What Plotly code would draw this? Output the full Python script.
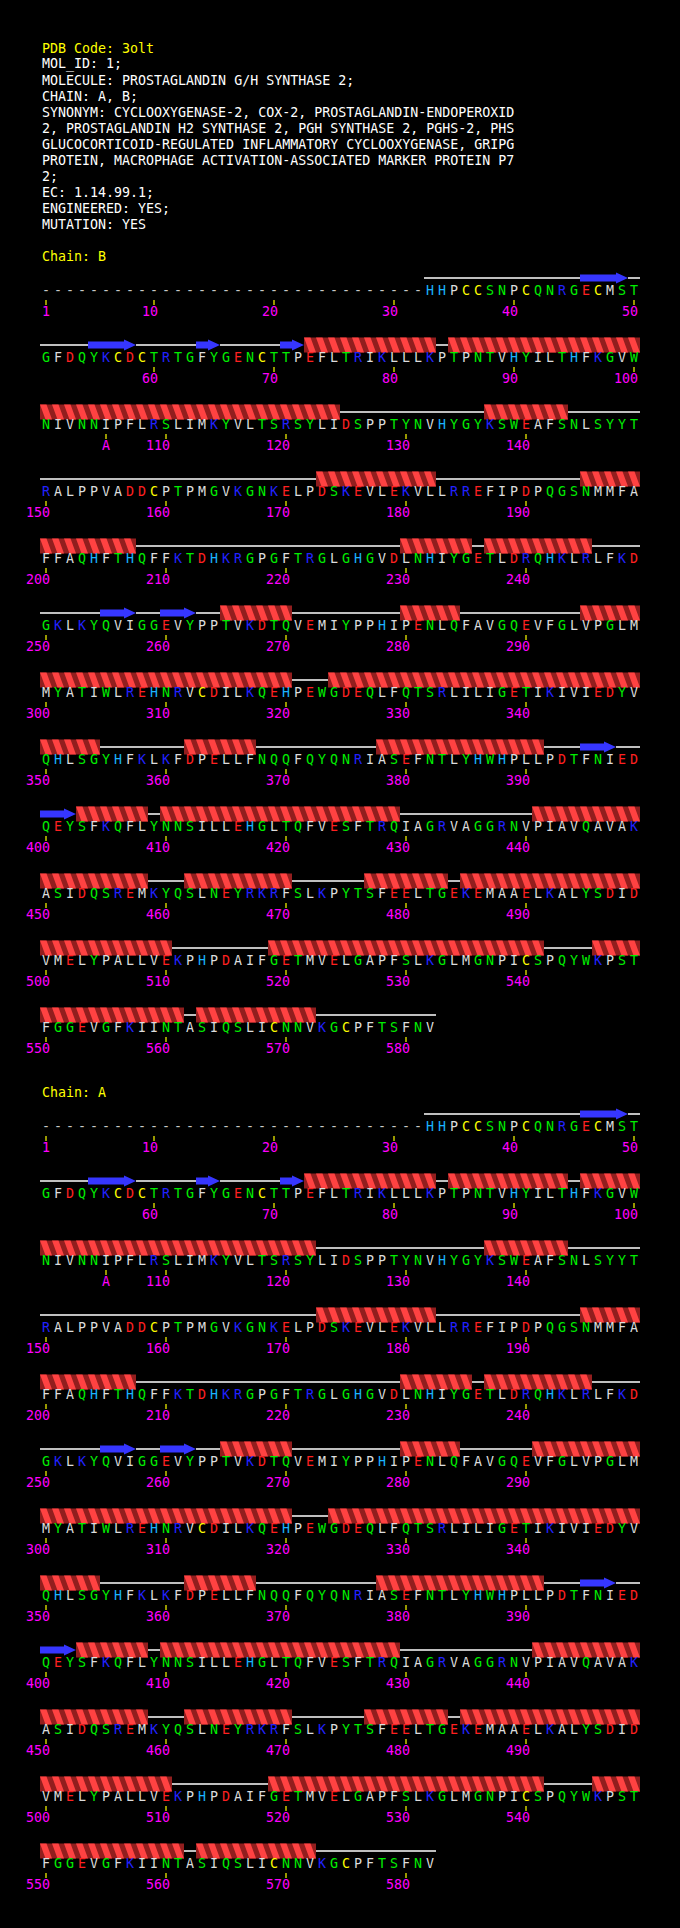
import plotly.graph_objects as go

# ---- header text ----
pdb_code = "3olt"
compound_lines = [
    "MOL_ID: 1;",
    "MOLECULE: PROSTAGLANDIN G/H SYNTHASE 2;",
    "CHAIN: A, B;",
    "SYNONYM: CYCLOOXYGENASE-2, COX-2, PROSTAGLANDIN-ENDOPEROXID",
    "2, PROSTAGLANDIN H2 SYNTHASE 2, PGH SYNTHASE 2, PGHS-2, PHS",
    "GLUCOCORTICOID-REGULATED INFLAMMATORY CYCLOOXYGENASE, GRIPG",
    "PROTEIN, MACROPHAGE ACTIVATION-ASSOCIATED MARKER PROTEIN P7",
    "2;",
    "EC: 1.14.99.1;",
    "ENGINEERED: YES;",
    "MUTATION: YES",
]

# ---- sequence (same for both chains) ----
last_residue = 582
n_missing = 32              # residues 1-32 not observed
insertion = ("105", "A")    # residue 105A
seq_rows = [
    "HHPCCSNPCQNRGECMST",
    "GFDQYKCDCTRTGFYGENCTTPEFLTRIKLLLKPTPNTVHYILTHFKGVW",
    "NIVNNIPFLRSLIMKYVLTSRSYLIDSPPTYNVHYGYKSWEAFSNLSYYT",
    "RALPPVADDCPTPMGVKGNKELPDSKEVLEKVLLRREFIPDPQGSNMMFA",
    "FFAQHFTHQFFKTDHKRGPGFTRGLGHGVDLNHIYGETLDRQHKLRLFKD",
    "GKLKYQVIGGEVYPPTVKDTQVEMIYPPHIPENLQFAVGQEVFGLVPGLM",
    "MYATIWLREHNRVCDILKQEHPEWGDEQLFQTSRLILIGETIKIVIEDYV",
    "QHLSGYHFKLKFDPELLFNQQFQYQNRIASEFNTLYHWHPLLPDTFNIED",
    "QEYSFKQFLYNNSILLEHGLTQFVESFTRQIAGRVAGGRNVPIAVQAVAK",
    "ASIDQSREMKYQSLNEYRKRFSLKPYTSFEELTGEKEMAAELKALYSDID",
    "VMELYPALLVEKPHPDAIFGETMVELGAPFSLKGLMGNPICSPQYWKPST",
    "FGGEVGFKIINTASIQSLICNNVKGCPFTSFNV",
]

# ---- secondary structure (residue ranges) ----
chains = ["B", "A"]
helices = {
    "B": [(73, 83), (85, 124), (137, 143), (173, 182), (195, 207), (230, 235),
          (237, 245), (265, 270), (280, 284), (295, 320), (324, 354), (362, 367),
          (378, 391), (403, 408), (410, 429), (441, 458), (462, 470), (477, 483),
          (485, 510), (519, 541), (546, 561), (563, 572)],
    "A": [(73, 83), (85, 94), (96, 122), (137, 143), (173, 182), (195, 207),
          (230, 235), (237, 245), (265, 270), (280, 284), (291, 320), (324, 354),
          (362, 367), (378, 391), (403, 408), (410, 429), (441, 458), (462, 470),
          (477, 483), (485, 510), (519, 541), (546, 561), (563, 572)],
}
strands = {
    "B": [(46, 49), (55, 58), (64, 65), (71, 72), (255, 257), (260, 262),
          (395, 397), (400, 402)],
    "A": [(46, 49), (55, 58), (64, 65), (71, 72), (255, 257), (260, 262),
          (395, 397), (400, 402)],
}

# ---- layout constants ----
W, H = 680, 1928
X0, PITCH = 46, 12          # px of first column, px per residue
PER_ROW = 50
ROW_STEP = 67
chain_top = {"B": 256, "A": 1092}
FONT = "DejaVu Sans Mono"
FS = 13.3

res_color = {}
for a in "AVLIPFM":
    res_color[a] = "#dcdcdc"
for a in "GSTYNQW":
    res_color[a] = "#00ee00"
for a in "DE":
    res_color[a] = "#ff2020"
for a in "KR":
    res_color[a] = "#2222ff"
res_color["H"] = "#1ab2ff"
res_color["C"] = "#ffff00"
res_color["-"] = "#c8c8c8"

# residue labels and one-letter codes (with missing and insertion)
labels = []
for n in range(1, last_residue + 1):
    labels.append(str(n))
    if str(n) == insertion[0]:
        labels.append(insertion[0] + insertion[1])
codes = "-" * n_missing + "".join(seq_rows)
assert len(codes) == len(labels)


def num(lab):
    return int(lab.rstrip("ABCDEFGHIJKLMNOPQRSTUVWXYZ"))


def px(d):
    return d / PITCH


fig = go.Figure()

for ch in chains:
    y_lab = chain_top[ch]
    y0 = y_lab + 36
    ss = ["C"] * len(labels)
    for a, b in helices[ch]:
        for i, lab in enumerate(labels):
            if a <= num(lab) <= b:
                ss[i] = "H"
    for a, b in strands[ch]:
        for i, lab in enumerate(labels):
            if a <= num(lab) <= b:
                ss[i] = "E"
    for i in range(n_missing):
        ss[i] = "-"

    lx, ly, lc = [], [], []
    tx, ty = [], []
    nx, ny, nt = [], [], []
    dark_x, dark_y, light_x, light_y = [], [], [], []
    arr_x, arr_y, coil_x, coil_y = [], [], [], []
    for r in range((len(labels) + PER_ROW - 1) // PER_ROW):
        yl = y0 + r * ROW_STEP
        ym = yl - 14
        yt, yb = yl - 21.5, yl - 6.5
        idx = list(range(r * PER_ROW, min(len(labels), (r + 1) * PER_ROW)))
        for c, i in enumerate(idx):
            lx.append(c)
            ly.append(yl)
            lc.append(codes[i])
            lab = labels[i]
            if lab[-1].isalpha() or num(lab) == 1 or num(lab) % 10 == 0:
                t = lab[-1] if lab[-1].isalpha() else lab
                tx += [c, c, None]
                ty += [yl + 8, yl + 13, None]
                nx.append(c + px(4 - 4 * len(t)))
                ny.append(yl + 21)
                nt.append(t)
        # runs of same secondary structure within the row
        c = 0
        while c < len(idx):
            kind = ss[idx[c]]
            e = c
            while e + 1 < len(idx) and ss[idx[e + 1]] == kind:
                e += 1
            a0, a1 = c - 0.5, e + 0.5
            if kind == "C":
                coil_x += [a0, a1, None]
                coil_y += [ym, ym, None]
            elif kind == "H":
                dark_x += [a0, a1, a1, a0, a0, None]
                dark_y += [yt, yt, yb, yb, yt, None]
                for k in range(c, e + 1):
                    s = k - 0.5
                    light_x += [s, s + px(6.5), s + 1, s + px(5.5), s, None]
                    light_y += [yt, yt, yb, yb, yt, None]
            elif kind == "E":
                h = a1 - 1
                arr_x += [a0, h, h, a1, h, h, a0, a0, None]
                arr_y += [ym - 3.5, ym - 3.5, ym - 5.5, ym, ym + 5.5, ym + 3.5,
                          ym + 3.5, ym - 3.5, None]
            c = e + 1

    fig.add_trace(go.Scatter(x=coil_x, y=coil_y, mode="lines",
                             line=dict(color="white", width=1.5), hoverinfo="skip"))
    fig.add_trace(go.Scatter(x=dark_x, y=dark_y, mode="lines", fill="toself",
                             fillcolor="#921e1e", line=dict(width=0), hoverinfo="skip"))
    fig.add_trace(go.Scatter(x=light_x, y=light_y, mode="lines", fill="toself",
                             fillcolor="#ff4242", line=dict(width=0), hoverinfo="skip"))
    fig.add_trace(go.Scatter(x=arr_x, y=arr_y, mode="lines", fill="toself",
                             fillcolor="#3636ff", line=dict(width=0), hoverinfo="skip"))
    fig.add_trace(go.Scatter(x=tx, y=ty, mode="lines",
                             line=dict(color="#ffff00", width=1.2), hoverinfo="skip"))
    fig.add_trace(go.Scatter(x=lx, y=ly, mode="text", text=lc,
                             textposition="middle center",
                             textfont=dict(family=FONT, size=FS,
                                           color=[res_color[a] for a in lc])))
    fig.add_trace(go.Scatter(x=nx, y=ny, mode="text", text=nt,
                             textposition="middle center",
                             textfont=dict(family=FONT, size=FS, color="#ff00ff")))
    fig.add_annotation(x=39.5 / W, xref="paper", y=y_lab, yref="y",
                       text="Chain: " + ch, showarrow=False, xanchor="left",
                       yanchor="middle", font=dict(family=FONT, size=FS, color="#ffff00"))

# header
fig.add_annotation(x=39.5 / W, xref="paper", y=48, yref="y",
                   text="PDB Code: " + pdb_code, showarrow=False, xanchor="left",
                   yanchor="middle", font=dict(family=FONT, size=FS, color="#ffff00"))
for i, line in enumerate(compound_lines):
    fig.add_annotation(x=39.5 / W, xref="paper", y=64 + 16 * i, yref="y",
                       text=line, showarrow=False, xanchor="left", yanchor="middle",
                       font=dict(family=FONT, size=FS, color="white"))

fig.update_layout(
    width=W, height=H,
    margin=dict(l=0, r=0, t=0, b=0),
    paper_bgcolor="black", plot_bgcolor="black",
    showlegend=False,
    xaxis=dict(range=[-X0 / PITCH, (W - X0) / PITCH], visible=False, fixedrange=True),
    yaxis=dict(range=[H, 0], visible=False, fixedrange=True),
)
fig.write_html("out.html", config={"displayModeBar": False},
               post_script="document.body.style.margin='0';"
                           "document.body.style.backgroundColor='black';")
